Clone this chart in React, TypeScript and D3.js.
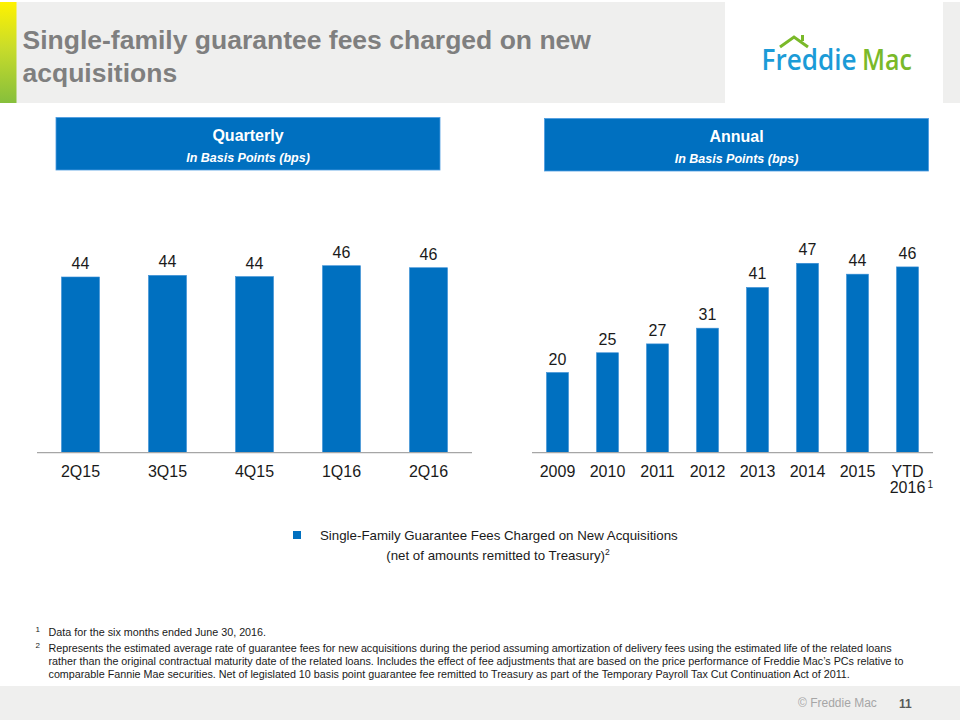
import React from 'react';
import * as d3 from 'd3';

const quarters = ['2Q15', '3Q15', '4Q15', '1Q16', '2Q16'];
const quarterlyValues = [43.6, 44.0, 43.7, 46.4, 45.9];
const years = ['2009', '2010', '2011', '2012', '2013', '2014', '2015', 'YTD 2016'];
const annualValues = [19.9, 24.8, 27.0, 30.9, 41.0, 47.0, 44.3, 46.1];

const titleLines = ['Single-family guarantee fees charged on new', 'acquisitions'];
const legendLines = ['Single-Family Guarantee Fees Charged on New Acquisitions', '(net of amounts remitted to Treasury)'];
const footnote1 = 'Data for the six months ended June 30, 2016.';
const footnote2 = [
  'Represents the estimated average rate of guarantee fees for new acquisitions during the period assuming amortization of delivery fees using the estimated life of the related loans',
  'rather than the original contractual maturity date of the related loans. Includes the effect of fee adjustments that are based on the price performance of Freddie Mac\u2019s PCs relative to',
  'comparable Fannie Mae securities. Net of legislated 10 basis point guarantee fee remitted to Treasury as part of the Temporary Payroll Tax Cut Continuation Act of 2011.',
];

const BLUE = '#0070C0';
const FONT = 'Liberation Sans, Arial, sans-serif';
const BASE = 452.7;

const y = d3.scaleLinear().domain([0, 50]).range([BASE, BASE - 201.5]);
const fmt = d3.format('.0f');

function BarChart({ cats, vals, x0, x1, pi, po }: { cats: string[]; vals: number[]; x0: number; x1: number; pi: number; po: number }) {
  const x = d3.scaleBand<string>().domain(cats).range([x0, x1]).paddingInner(pi).paddingOuter(po);
  return (
    <g>
      {cats.map((c, i) => (
        <g key={c}>
          <rect x={x(c)} y={y(vals[i])} width={x.bandwidth()} height={BASE - y(vals[i])} fill={BLUE} stroke="#3b8fd6" strokeWidth={0.6} />
          <text x={(x(c) as number) + x.bandwidth() / 2} y={y(vals[i]) - 8} textAnchor="middle" fontSize={16} fill="#1a1a1a" fontFamily={FONT}>
            {fmt(vals[i])}
          </text>
          {c.startsWith('YTD') ? (
            <g>
              <text x={(x(c) as number) + x.bandwidth() / 2} y={BASE + 24.5} textAnchor="middle" fontSize={16} fill="#1a1a1a" fontFamily={FONT}>YTD</text>
              <text x={(x(c) as number) + x.bandwidth() / 2} y={BASE + 40.5} textAnchor="middle" fontSize={16} fill="#1a1a1a" fontFamily={FONT}>2016</text>
              <text x={(x(c) as number) + x.bandwidth() / 2 + 20} y={BASE + 35} fontSize={10} fill="#1a1a1a" fontFamily={FONT}>1</text>
            </g>
          ) : (
            <text x={(x(c) as number) + x.bandwidth() / 2} y={BASE + 24.5} textAnchor="middle" fontSize={16} fill="#1a1a1a" fontFamily={FONT}>{c}</text>
          )}
        </g>
      ))}
      <line x1={x0} x2={x1} y1={BASE} y2={BASE} stroke="#a6a6a6" strokeWidth={1.2} />
    </g>
  );
}

export default function App() {
  return (
    <svg width={960} height={720} style={{ position: 'absolute', left: 0, top: 0, background: '#fff' }} fontFamily={FONT}>
      <defs>
        <linearGradient id="strip" x1="0" y1="0" x2="0" y2="1">
          <stop offset="0" stopColor="#fff200" />
          <stop offset="0.45" stopColor="#c9dc2a" />
          <stop offset="1" stopColor="#86bf3c" />
        </linearGradient>
      </defs>
      {/* header */}
      <rect x={0} y={2} width={725} height={101} fill="#efefee" />
      <rect x={943} y={2} width={17} height={101} fill="#efefee" />
      <rect x={0} y={2} width={16.5} height={101} fill="url(#strip)" />
      {titleLines.map((t, i) => (
        <text key={i} x={22.5} y={48.5 + i * 33.5} fontSize={26.5} fontWeight="bold" fill="#7f7f7f" fontFamily={FONT}>{t}</text>
      ))}
      {/* logo */}
      <text x={761.5} y={69.5} fontSize={29} fontWeight={600} fontFamily="Open Sans, Lato, sans-serif" textLength={95} lengthAdjust="spacingAndGlyphs" fill="#1b9bd7">Freddie</text>
      <text x={862} y={69.5} fontSize={29} fontWeight={600} fontFamily="Open Sans, Lato, sans-serif" textLength={50} lengthAdjust="spacingAndGlyphs" fill="#7ab929">Mac</text>
      <polyline points="780,47 794,37 808,47" fill="none" stroke="#7ab929" strokeWidth={3} strokeLinejoin="miter" />
      <rect x={801} y={35} width={3} height={6} fill="#7ab929" />

      {/* section boxes */}
      <rect x={56} y={117.5} width={384} height={52.5} fill={BLUE} stroke="#4d9be0" strokeWidth={0.8} />
      <text x={248} y={140.5} textAnchor="middle" fontSize={16} fontWeight="bold" fill="#fff">Quarterly</text>
      <text x={248} y={161.5} textAnchor="middle" fontSize={12.5} fontWeight="bold" fontStyle="italic" fill="#fff">In Basis Points (bps)</text>
      <rect x={544.5} y={118.5} width={384} height={52.5} fill={BLUE} stroke="#4d9be0" strokeWidth={0.8} />
      <text x={736.5} y={141.5} textAnchor="middle" fontSize={16} fontWeight="bold" fill="#fff">Annual</text>
      <text x={736.5} y={162.5} textAnchor="middle" fontSize={12.5} fontWeight="bold" fontStyle="italic" fill="#fff">In Basis Points (bps)</text>

      <BarChart cats={quarters} vals={quarterlyValues} x0={37} x1={472} pi={0.563} po={0.2816} />
      <BarChart cats={years} vals={annualValues} x0={532} x1={933} pi={0.56} po={0.29} />

      {/* legend */}
      <rect x={293} y={531} width={8} height={8} fill={BLUE} />
      <text x={320} y={539.5} fontSize={13.3} fill="#1a1a1a">{legendLines[0]}</text>
      <text x={498} y={559.5} textAnchor="middle" fontSize={13.3} fill="#1a1a1a">
        {legendLines[1]}
        <tspan fontSize={8.5} dy={-5}>2</tspan>
      </text>

      {/* footnotes */}
      <text x={35.5} y={632} fontSize={8} fill="#1a1a1a">1</text>
      <text x={48.5} y={636} fontSize={10.75} fill="#1a1a1a">{footnote1}</text>
      <text x={35.5} y={648} fontSize={8} fill="#1a1a1a">2</text>
      <text x={48.5} y={652} fontSize={10.75} fill="#1a1a1a" textLength={843} lengthAdjust="spacing">{footnote2[0]}</text>
      <text x={48.5} y={665} fontSize={10.75} fill="#1a1a1a" textLength={855} lengthAdjust="spacing">{footnote2[1]}</text>
      <text x={48.5} y={678} fontSize={10.75} fill="#1a1a1a">{footnote2[2]}</text>

      {/* footer */}
      <rect x={0} y={686} width={960} height={34} fill="#efefee" />
      <text x={798} y={707} fontSize={12} fill="#a6a6a6">{'\u00A9 Freddie Mac'}</text>
      <text x={899} y={708} fontSize={12} fontWeight="bold" fill="#595959">11</text>
    </svg>
  );
}
